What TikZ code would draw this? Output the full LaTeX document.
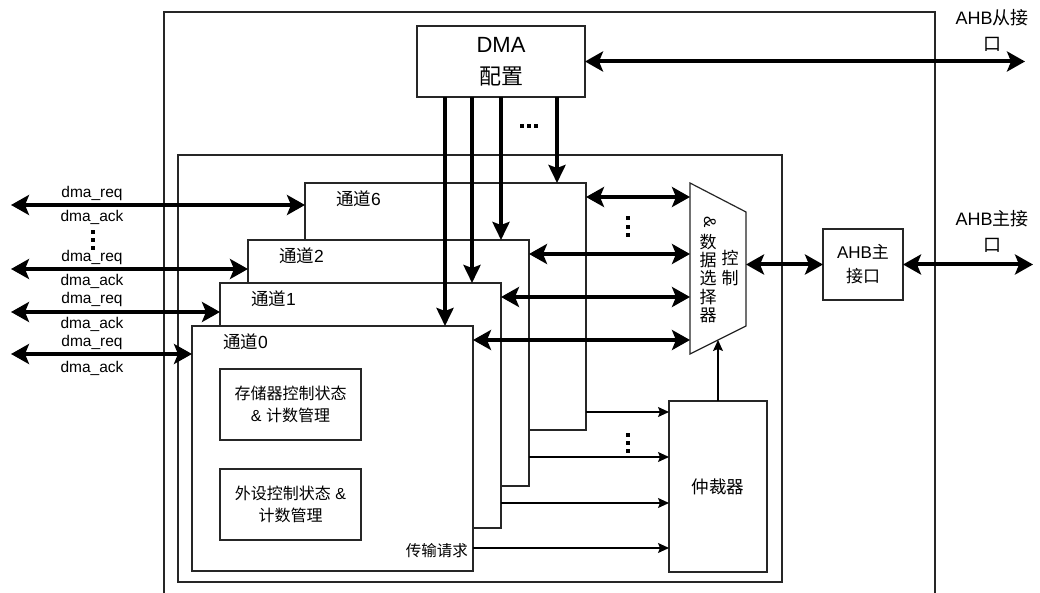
\documentclass[tikz,border=0pt]{standalone}
\usepackage{fontspec}
\setmainfont{Liberation Sans}
\newfontfamily\cjk{Noto Sans CJK SC}
\newcommand\zh[1]{{\cjk #1}}
\usetikzlibrary{arrows.meta}
\begin{document}
\begin{tikzpicture}[x=1pt,y=-1pt,
  box/.style={draw=black!85, line width=1.2pt, fill=white, inner sep=0pt, outer sep=0pt, anchor=north west},
  bigarr/.style={line width=4pt, {Stealth[length=18pt,width=20pt,inset=4pt]}-{Stealth[length=18pt,width=20pt,inset=4pt]}},
  downarr/.style={line width=4pt, -{Stealth[length=18pt,width=17pt,inset=3pt]}},
  thinarr/.style={line width=1.2pt, -{Stealth[length=11pt,width=10pt,inset=2pt]}},
  lbl/.style={inner sep=0pt, font=\fontsize{15.5}{18}\selectfont},
  txt/.style={inner sep=0pt, align=center},
  dotsq/.style={fill=black}
]
\useasboundingbox (0,0) rectangle (1040,593);
\fill[white] (0,0) rectangle (1040,593);

% frames
\node[box, minimum width=771, minimum height=620] (outer) at (164,12) {};
\node[box, minimum width=604, minimum height=427] (inner) at (178,155) {};

% DMA config
\node[box, minimum width=168, minimum height=71] (dma) at (417,26) {};
\node[txt, font=\fontsize{22}{32}\selectfont] (dmat) at (dma.center) {DMA\\\zh{配置}};

% channels
\node[box, minimum width=281, minimum height=247] (ch6) at (305,183) {};
\node[box, minimum width=281, minimum height=246] (ch2) at (248,240) {};
\node[box, minimum width=281, minimum height=245] (ch1) at (220,283) {};
\node[box, minimum width=281, minimum height=245] (ch0) at (192,326) {};
\node[txt, anchor=west, font=\fontsize{17.5}{20}\selectfont] (ch6t) at (336,199) {\zh{通道}6};
\node[txt, anchor=west, font=\fontsize{17.5}{20}\selectfont] (ch2t) at (279,256) {\zh{通道}2};
\node[txt, anchor=west, font=\fontsize{17.5}{20}\selectfont] (ch1t) at (251,299) {\zh{通道}1};
\node[txt, anchor=west, font=\fontsize{17.5}{20}\selectfont] (ch0t) at (223,342) {\zh{通道}0};

\node[box, minimum width=141, minimum height=71] (mem) at (220,369) {};
\node[txt, font=\fontsize{16}{22}\selectfont] (memt) at (mem.center) {\zh{存储器控制状态}\\\& \zh{计数管理}};
\node[box, minimum width=141, minimum height=71] (per) at (220,469) {};
\node[txt, font=\fontsize{16}{22}\selectfont] (pert) at (per.center) {\zh{外设控制状态} \&\\\zh{计数管理}};
\node[txt, anchor=east, font=\fontsize{15.5}{18}\selectfont] (req) at (468,551) {\zh{传输请求}};

% arbiter
\node[box, minimum width=98, minimum height=171] (arb) at (669,401) {};
\node[txt, font=\fontsize{17.5}{20}\selectfont] (arbt) at (arb.center) {\zh{仲裁器}};

% mux
\node[inner sep=0pt, outer sep=0pt, minimum width=56, minimum height=171, anchor=north west] (mux) at (690,183) {};
\draw[draw=black!85, line width=1.2pt, fill=white] (690,183) -- (746,212) -- (746,326) -- (690,354) -- cycle;
\node[txt, rotate=-90, font=\fontsize{17}{18}\selectfont] (amp) at (710,222) {\&};
\node[txt, font=\fontsize{17}{18.25}\selectfont] (muxt1) at (708,278.5) {\zh{数}\\\zh{据}\\\zh{选}\\\zh{择}\\\zh{器}};
\node[txt, font=\fontsize{17}{20}\selectfont] (muxt2) at (730,268) {\zh{控}\\\zh{制}};
\coordinate (muxb) at (718,340);

% AHB master
\node[box, minimum width=80, minimum height=71] (ahbm) at (823,229) {};
\node[txt, font=\fontsize{17}{24}\selectfont] (ahbmt) at (ahbm.center) {AHB\zh{主}\\\zh{接口}};

% outer labels
\node[txt, font=\fontsize{18}{26}\selectfont] (slvt) at (992,30) {AHB\zh{从接}\\\zh{口}};
\node[txt, font=\fontsize{18}{26}\selectfont] (mstt) at (992,231) {AHB\zh{主接}\\\zh{口}};

% coordinates for free ends
\coordinate (slvend) at (1025,61.5);
\coordinate (mstend) at (1033,264.5);
\coordinate (l6) at (11,205);
\coordinate (l2) at (11,269);
\coordinate (l1) at (11,312);
\coordinate (l0) at (11,354);

% thick arrows
\draw[bigarr] (dma.east) -- (slvend);
\draw[bigarr] (ahbm.east) -- (mstend);
\draw[bigarr] (mux.east |- ahbm.west) -- (ahbm.west);
\draw[bigarr] (ch6.east |- 0,197) -- (mux.west |- 0,197);
\draw[bigarr] (ch2.east |- 0,254) -- (mux.west |- 0,254);
\draw[bigarr] (ch1.east |- 0,297) -- (mux.west |- 0,297);
\draw[bigarr] (ch0.east |- 0,340) -- (mux.west |- 0,340);
\draw[bigarr] (l6) -- (ch6.west |- l6);
\draw[bigarr] (l2) -- (ch2.west |- l2);
\draw[bigarr] (l1) -- (ch1.west |- l1);
\draw[bigarr] (l0) -- (ch0.west |- l0);

\draw[downarr] (dma.south -| 445,0) -- (ch0.north -| 445,0);
\draw[downarr] (dma.south -| 472,0) -- (ch1.north -| 472,0);
\draw[downarr] (dma.south -| 501,0) -- (ch2.north -| 501,0);
\draw[downarr] (dma.south -| 557,0) -- (ch6.north -| 557,0);

% thin arrows
\draw[thinarr] (ch6.east |- 0,412) -- (arb.west |- 0,412);
\draw[thinarr] (ch2.east |- 0,457) -- (arb.west |- 0,457);
\draw[thinarr] (ch1.east |- 0,503) -- (arb.west |- 0,503);
\draw[thinarr] (ch0.east |- 0,548) -- (arb.west |- 0,548);
\draw[thinarr] (arb.north) -- (muxb);

% dma labels
\node[lbl] (r6) at (92,193) {dma\_req};
\node[lbl] (a6) at (92,217) {dma\_ack};
\node[lbl] (r2) at (92,257) {dma\_req};
\node[lbl] (a2) at (92,281) {dma\_ack};
\node[lbl] (r1) at (92,299) {dma\_req};
\node[lbl] (a1) at (92,324) {dma\_ack};
\node[lbl] (r0) at (92,342) {dma\_req};
\node[lbl] (a0) at (92,368) {dma\_ack};

% dots
\foreach \y in {232,240,248} \fill[dotsq] (91,\y-2) rectangle (95,\y+2);
\foreach \y in {218,227,235} \fill[dotsq] (626,\y-2) rectangle (630,\y+2);
\foreach \y in {435,443,451} \fill[dotsq] (626,\y-2) rectangle (630,\y+2);
\foreach \x in {522,529,536} \fill[dotsq] (\x-1.8,124.2) rectangle (\x+1.8,127.8);
\end{tikzpicture}
\end{document}
